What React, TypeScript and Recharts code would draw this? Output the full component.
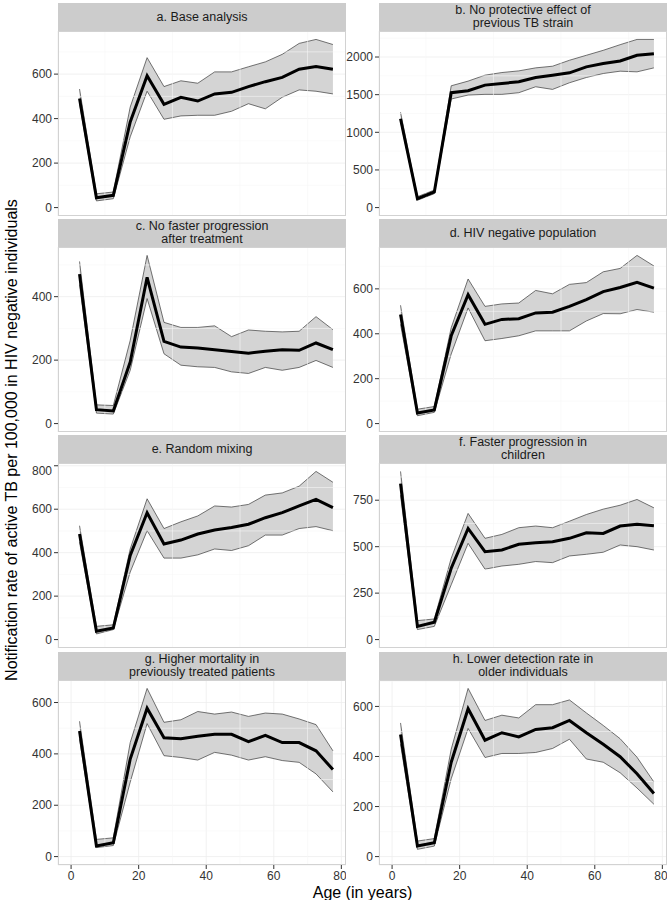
import React from "react";
import {
  ComposedChart,
  Area,
  Line,
  XAxis,
  YAxis,
  CartesianGrid,
  ReferenceLine,
} from "recharts";

// age group midpoints (years)
const AGES = [2.5, 7.5, 12.5, 17.5, 22.5, 27.5, 32.5, 37.5, 42.5, 47.5, 52.5, 57.5, 62.5, 67.5, 72.5, 77.5];

// a. Base analysis
const A_MID = [490, 44, 55, 385, 593, 464, 496, 479, 511, 518, 544, 566, 585, 622, 634, 622];
const A_LO = [467, 30, 40, 318, 523, 397, 412, 415, 415, 433, 467, 444, 496, 529, 523, 511];
const A_HI = [533, 62, 70, 452, 674, 544, 570, 559, 610, 610, 633, 655, 689, 738, 756, 733];

// b. No protective effect of previous TB strain
const B_MID = [1180, 119, 207, 1526, 1552, 1627, 1649, 1671, 1728, 1759, 1790, 1869, 1913, 1948, 2023, 2045];
const B_LO = [1143, 97, 185, 1442, 1495, 1504, 1504, 1526, 1605, 1570, 1658, 1728, 1781, 1812, 1803, 1856];
const B_HI = [1266, 145, 233, 1618, 1680, 1759, 1794, 1816, 1856, 1878, 1957, 2023, 2089, 2164, 2234, 2234];

// c. No faster progression after treatment
const C_MID = [471, 44, 40, 194, 461, 259, 241, 238, 233, 227, 222, 228, 233, 231, 254, 233];
const C_LO = [438, 33, 30, 168, 394, 220, 184, 179, 177, 163, 158, 177, 168, 177, 199, 177];
const C_HI = [511, 59, 57, 262, 530, 319, 303, 303, 308, 274, 295, 291, 289, 291, 337, 296];

// d. HIV negative population
const D_MID = [486, 47, 61, 391, 574, 442, 464, 467, 493, 496, 522, 552, 588, 606, 629, 603];
const D_LO = [442, 35, 50, 310, 515, 369, 379, 391, 413, 413, 413, 457, 490, 489, 508, 496];
const D_HI = [527, 64, 76, 427, 644, 522, 533, 537, 593, 578, 620, 628, 676, 691, 749, 702];

// e. Random mixing
const E_MID = [486, 38, 53, 387, 584, 440, 458, 486, 504, 516, 531, 561, 584, 615, 645, 607];
const E_LO = [448, 26, 46, 311, 501, 375, 375, 390, 417, 410, 432, 481, 481, 511, 520, 501];
const E_HI = [524, 61, 68, 417, 648, 511, 542, 569, 615, 610, 622, 665, 675, 706, 774, 724];

// f. Faster progression in children
const F_MID = [839, 71, 93, 384, 598, 473, 482, 513, 521, 527, 545, 575, 571, 611, 621, 612];
const F_LO = [777, 54, 71, 295, 518, 379, 396, 405, 420, 414, 450, 459, 470, 509, 500, 482];
const F_HI = [905, 102, 111, 438, 679, 545, 566, 602, 611, 602, 637, 673, 702, 723, 754, 709];

// g. Higher mortality in previously treated patients
const G_MID = [489, 41, 54, 380, 578, 463, 459, 469, 476, 476, 448, 472, 444, 444, 412, 339];
const G_LO = [457, 35, 43, 290, 518, 393, 386, 376, 406, 395, 376, 389, 374, 367, 322, 252];
const G_HI = [527, 67, 73, 444, 655, 523, 533, 565, 555, 563, 546, 559, 555, 536, 514, 412];

// h. Lower detection rate in older individuals
const H_MID = [488, 42, 55, 377, 591, 465, 495, 478, 508, 515, 544, 495, 449, 399, 331, 252];
const H_LO = [449, 29, 42, 311, 512, 396, 412, 412, 416, 432, 469, 390, 377, 335, 274, 209];
const H_HI = [534, 62, 72, 429, 672, 544, 565, 554, 607, 607, 626, 574, 524, 471, 397, 298];

const X_TICKS = [0, 20, 40, 60, 80];
const X_MINOR = [10, 30, 50, 70];

const PANELS = [
  { title: ["a. Base analysis"], mid: A_MID, lo: A_LO, hi: A_HI, ticks: [0, 200, 400, 600] },
  { title: ["b. No protective effect of", "previous TB strain"], mid: B_MID, lo: B_LO, hi: B_HI, ticks: [0, 500, 1000, 1500, 2000] },
  { title: ["c. No faster progression", "after treatment"], mid: C_MID, lo: C_LO, hi: C_HI, ticks: [0, 200, 400] },
  { title: ["d. HIV negative population"], mid: D_MID, lo: D_LO, hi: D_HI, ticks: [0, 200, 400, 600] },
  { title: ["e. Random mixing"], mid: E_MID, lo: E_LO, hi: E_HI, ticks: [0, 200, 400, 600, 800] },
  { title: ["f. Faster progression in", "children"], mid: F_MID, lo: F_LO, hi: F_HI, ticks: [0, 250, 500, 750] },
  { title: ["g. Higher mortality in", "previously treated patients"], mid: G_MID, lo: G_LO, hi: G_HI, ticks: [0, 200, 400, 600] },
  { title: ["h. Lower detection rate in", "older individuals"], mid: H_MID, lo: H_LO, hi: H_HI, ticks: [0, 200, 400, 600] },
];

const FONT = "'Liberation Sans', Arial, Helvetica, sans-serif";
const LEFTS = [58, 379];
const TOPS = [3, 219, 435, 652];
const PW = 288;
const PH = 185;
const STRIP = 28;
const YW = 60;
const X_AXIS_H = 22;

type Panel = (typeof PANELS)[number];

function Facet({ panel, left, top, bottom }: { panel: Panel; left: number; top: number; bottom: boolean }) {
  const rows = AGES.map((age, i) => ({
    age,
    mid: panel.mid[i],
    band: [panel.lo[i], panel.hi[i]],
  }));
  // ggplot-like 5% expansion, data range includes 0
  const max = Math.max(...panel.hi);
  const domain: [number, number] = [-0.05 * max, 1.05 * max];
  const step = panel.ticks[1] - panel.ticks[0];
  const minor: number[] = [];
  for (let v = step / 2; v < domain[1]; v += step) minor.push(v);

  const tickStyle = { fill: "#333", fontSize: 12, fontFamily: FONT };

  return (
    <>
      <div
        style={{
          position: "absolute",
          left,
          top,
          width: PW,
          height: STRIP,
          background: "#CCCCCC",
          display: "flex",
          flexDirection: "column",
          alignItems: "center",
          justifyContent: "center",
          fontFamily: FONT,
          fontSize: 12.5,
          lineHeight: "13px",
          color: "#1a1a1a",
        }}
      >
        {panel.title.map((t) => (
          <div key={t}>{t}</div>
        ))}
      </div>
      <div style={{ position: "absolute", left: left - YW, top: top + STRIP }}>
        <ComposedChart
          width={YW + PW}
          height={PH + (bottom ? X_AXIS_H : 0)}
          data={rows}
          margin={{ top: 0, right: 0, bottom: 0, left: 0 }}
        >
          <CartesianGrid stroke="#EDEDED" strokeWidth={0.8} />
          {minor.map((v) => (
            <ReferenceLine key={"y" + v} y={v} stroke="#F6F6F6" strokeWidth={0.6} />
          ))}
          {X_MINOR.map((v) => (
            <ReferenceLine key={"x" + v} x={v} stroke="#F6F6F6" strokeWidth={0.6} />
          ))}
          <XAxis
            dataKey="age"
            type="number"
            domain={[-3.875, 81.375]}
            ticks={X_TICKS}
            height={bottom ? X_AXIS_H : 0}
            tick={bottom ? tickStyle : false}
            tickLine={bottom ? { stroke: "#333" } : false}
            tickSize={4}
            tickMargin={2}
            axisLine={false}
            allowDataOverflow
          />
          <YAxis
            type="number"
            domain={domain}
            ticks={panel.ticks}
            width={YW}
            tick={tickStyle}
            tickLine={{ stroke: "#333" }}
            tickSize={4}
            tickMargin={2}
            axisLine={false}
            allowDataOverflow
          />
          <Area
            dataKey="band"
            type="linear"
            stroke="#3a3a3a"
            strokeWidth={0.7}
            fill="#D4D4D4"
            fillOpacity={1}
            isAnimationActive={false}
          />
          <Line
            dataKey="mid"
            type="linear"
            stroke="#000"
            strokeWidth={3}
            dot={false}
            isAnimationActive={false}
          />
        </ComposedChart>
      </div>
      <div
        style={{
          position: "absolute",
          left,
          top: top + STRIP,
          width: PW,
          height: PH,
          border: "1px solid #D2D2D2",
          boxSizing: "border-box",
          pointerEvents: "none",
        }}
      />
    </>
  );
}

export default function App() {
  return (
    <div
      style={{
        position: "absolute",
        left: 0,
        top: 0,
        width: 672,
        height: 900,
        background: "#fff",
        overflow: "hidden",
      }}
    >
      {PANELS.map((p, i) => (
        <Facet
          key={i}
          panel={p}
          left={LEFTS[i % 2]}
          top={TOPS[Math.floor(i / 2)]}
          bottom={Math.floor(i / 2) === TOPS.length - 1}
        />
      ))}
      <div
        style={{
          position: "absolute",
          left: 12,
          top: 440,
          transform: "translate(-50%, -50%) rotate(-90deg)",
          whiteSpace: "nowrap",
          fontFamily: FONT,
          fontSize: 16,
          lineHeight: "18px",
          color: "#000",
        }}
      >
        Notification rate of active TB per 100,000 in HIV negative individuals
      </div>
      <div
        style={{
          position: "absolute",
          left: 362.5,
          top: 893,
          transform: "translate(-50%, -50%)",
          whiteSpace: "nowrap",
          fontFamily: FONT,
          fontSize: 16,
          lineHeight: "16px",
          color: "#000",
        }}
      >
        Age (in years)
      </div>
    </div>
  );
}
